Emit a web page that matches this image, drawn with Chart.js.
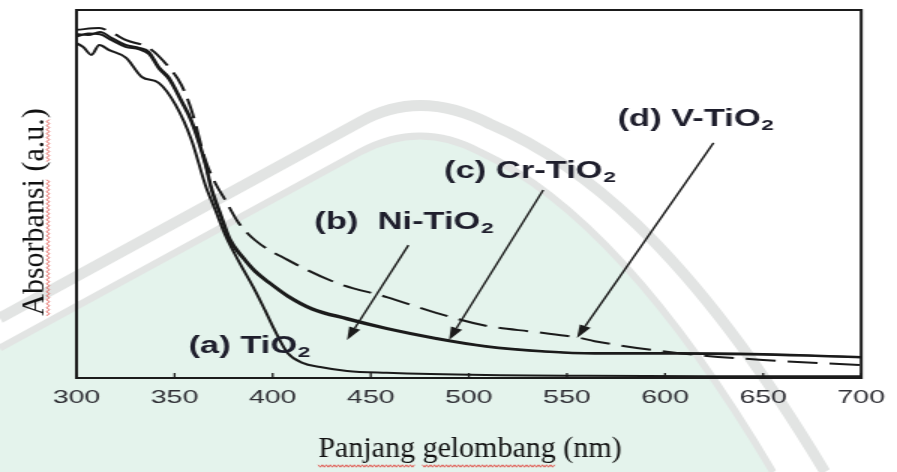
<!DOCTYPE html>
<html><head><meta charset="utf-8">
<script src="https://cdn.jsdelivr.net/npm/chart.js@4/dist/chart.umd.min.js"></script>
<style>
html,body{margin:0;padding:0;background:#fff;overflow:hidden}
</style></head><body>
<canvas id="c" width="598" height="472" style="width:897px;height:472px;display:block"></canvas>
<script>
// ---- data (wavelength in nm, absorbance in a.u.) ----
const xTickValues = [300, 350, 400, 450, 500, 550, 600, 650, 700];
const xTickLabels = ['300', '350', '400', '450', '500', '550', '600', '650', '700'];
const xTitle = 'Panjang gelombang (nm)';
const yTitle = 'Absorbansi (a.u.)';

const tio2X = [300, 303.5, 307.6, 311.6, 316.7, 325.3, 333.3, 341.9, 350.5, 358.6, 365.7, 370.7, 375.8, 382.3, 390.9, 396, 401, 407.6, 415.2, 424.2, 437.9, 458.1, 508.6, 560, 620, 700];
const tio2Y = [0.910, 0.899, 0.878, 0.905, 0.891, 0.870, 0.818, 0.802, 0.742, 0.647, 0.524, 0.457, 0.389, 0.321, 0.239, 0.185, 0.130, 0.068, 0.041, 0.030, 0.019, 0.014, 0.008, 0.006, 0.005, 0.005];

const dopedX = [300, 306, 312, 318, 325, 332, 337, 342, 347, 353.5, 358.6, 365.7, 368.7, 373.7, 378.3, 384.8, 390.9, 398, 407.6, 420, 437.9, 458.1, 483.3, 508.6, 538.9, 564.1, 606.1, 650, 700];
const niY = [0.928, 0.936, 0.934, 0.918, 0.900, 0.893, 0.880, 0.840, 0.812, 0.750, 0.695, 0.578, 0.512, 0.437, 0.372, 0.325, 0.288, 0.258, 0.221, 0.186, 0.159, 0.133, 0.106, 0.085, 0.071, 0.066, 0.066, 0.063, 0.056];
const crY = [0.935, 0.932, 0.940, 0.924, 0.905, 0.897, 0.886, 0.845, 0.818, 0.755, 0.701, 0.585, 0.520, 0.443, 0.378, 0.330, 0.293, 0.262, 0.225, 0.190, 0.163, 0.136, 0.109, 0.087, 0.073, 0.068, 0.068, 0.065, 0.057];

const vX = [300, 311.6, 318.2, 325.3, 336.9, 347, 353.5, 358.6, 365.7, 370.7, 375.8, 382.3, 390.9, 407.6, 432.8, 458.1, 483.3, 508.6, 533.8, 555.6, 564.1, 606.1, 650, 700];
const vY = [0.946, 0.951, 0.938, 0.918, 0.897, 0.845, 0.796, 0.728, 0.592, 0.530, 0.484, 0.424, 0.375, 0.321, 0.258, 0.220, 0.177, 0.142, 0.125, 0.110, 0.100, 0.068, 0.049, 0.035];

// annotation labels: text, subscript, anchor (nm, a.u.)
const labelNames = ['(a) TiO', '(b)  Ni-TiO', '(c) Cr-TiO', '(d) V-TiO'];
const labelSubs = ['2', '2', '2', '2'];
const labelAtX = [357.1, 421.2, 487.4, 575.8];
const labelAtY = [0.090, 0.427, 0.565, 0.707];
// arrows: from (x1,y1) to tip (x2,y2), data units
const arrowFromX = [469.2, 537.9, 624.7];
const arrowFromY = [0.361, 0.511, 0.639];
const arrowToX = [437.9, 489.9, 555.1];
const arrowToY = [0.103, 0.103, 0.109];

const S = 1.5; // the pasted figure is stretched horizontally
const pts = (xs, ys) => xs.map((x, i) => ({x: x, y: ys[i]}));
const INK = '#1b1b1b';

function squiggle(ctx, x1, x2, y) {
  ctx.beginPath();
  let k = 0;
  for (let x = x1; x <= x2; x += 2, k++) {
    const yy = y + (k % 2 ? 1.2 : -1.2);
    if (k === 0) ctx.moveTo(x, yy); else ctx.lineTo(x, yy);
  }
  ctx.stroke();
}

const watermark = {
  id: 'watermark',
  beforeDraw(chart) {
    const ctx = chart.ctx;
    ctx.save();
    ctx.scale(1 / S, 1);
    ctx.fillStyle = '#ffffff';
    ctx.fillRect(0, 0, 897, 472);
    // green logo field
    ctx.beginPath();
    ctx.moveTo(0, 472); ctx.lineTo(0, 345); ctx.lineTo(360, 150);
    ctx.quadraticCurveTo(420, 118, 480, 150);
    ctx.bezierCurveTo(545, 180, 645, 255, 775, 472);
    ctx.closePath();
    ctx.fillStyle = '#e4f3ec';
    ctx.fill();
    // grey rings
    ctx.strokeStyle = '#e2e4e3';
    ctx.lineWidth = 11;
    ctx.beginPath();
    ctx.moveTo(0, 318); ctx.lineTo(360, 122);
    ctx.quadraticCurveTo(420, 88, 490, 124);
    ctx.bezierCurveTo(575, 160, 685, 240, 825, 472);
    ctx.stroke();
    ctx.lineWidth = 7;
    ctx.beginPath();
    ctx.moveTo(0, 348); ctx.lineTo(360, 152);
    ctx.quadraticCurveTo(420, 120, 480, 152);
    ctx.bezierCurveTo(545, 182, 645, 257, 773, 472);
    ctx.stroke();
    ctx.restore();
  }
};

const frame = {
  id: 'frame',
  afterDatasetsDraw(chart) {
    const ctx = chart.ctx, a = chart.chartArea, xs = chart.scales.x, ys = chart.scales.y;
    ctx.save();
    ctx.strokeStyle = INK;
    ctx.lineWidth = 2;
    ctx.strokeRect(a.left, a.top, a.right - a.left, a.bottom - a.top);
    ctx.lineWidth = 1.3;
    xs.ticks.forEach(t => {
      const px = xs.getPixelForValue(t.value);
      ctx.beginPath(); ctx.moveTo(px, a.bottom); ctx.lineTo(px, a.bottom - 5); ctx.stroke();
    });
    // arrows
    ctx.fillStyle = INK;
    for (let i = 0; i < arrowFromX.length; i++) {
      const x1 = xs.getPixelForValue(arrowFromX[i]), y1 = ys.getPixelForValue(arrowFromY[i]);
      const x2 = xs.getPixelForValue(arrowToX[i]), y2 = ys.getPixelForValue(arrowToY[i]);
      const ang = Math.atan2(y2 - y1, x2 - x1);
      const L = 13, W = 4;
      const bx = x2 - L * Math.cos(ang), by = y2 - L * Math.sin(ang);
      ctx.lineWidth = 1.4;
      ctx.beginPath(); ctx.moveTo(x1, y1); ctx.lineTo(bx, by); ctx.stroke();
      ctx.beginPath();
      ctx.moveTo(x2, y2);
      ctx.lineTo(bx + W * Math.sin(ang), by - W * Math.cos(ang));
      ctx.lineTo(bx - W * Math.sin(ang), by + W * Math.cos(ang));
      ctx.closePath(); ctx.fill();
    }
    // labels
    ctx.fillStyle = '#1e1e2c';
    ctx.textBaseline = 'alphabetic';
    ctx.textAlign = 'left';
    for (let i = 0; i < labelNames.length; i++) {
      const x = xs.getPixelForValue(labelAtX[i]), y = ys.getPixelForValue(labelAtY[i]);
      ctx.font = 'bold 23px "Liberation Sans", Arial, sans-serif';
      ctx.fillText(labelNames[i], x, y + 8);
      const w = ctx.measureText(labelNames[i]).width;
      ctx.font = 'bold 15px "Liberation Sans", Arial, sans-serif';
      ctx.fillText(labelSubs[i], x + w + 0.5, y + 12);
    }
    ctx.restore();
  }
};

const titles = {
  id: 'titles',
  afterDraw(chart) {
    const ctx = chart.ctx;
    ctx.save();
    ctx.scale(1 / S, 1);
    ctx.fillStyle = '#111111';
    ctx.font = '30px "Liberation Serif", "Times New Roman", serif';
    ctx.textBaseline = 'alphabetic';
    ctx.textAlign = 'left';
    const w = ctx.measureText(xTitle).width;
    const x0 = 470 - w / 2, yb = 457;
    ctx.fillText(xTitle, x0, yb);
    ctx.strokeStyle = '#e0443c'; ctx.lineWidth = 1;
    const sp = ctx.measureText(' ').width;
    let cx = x0;
    xTitle.split(' ').forEach((wd, i) => {
      const ww = ctx.measureText(wd).width;
      if (i < 2) squiggle(ctx, cx, cx + ww, yb + 9);
      cx += ww + sp;
    });
    // y title
    ctx.translate(44, 0);
    ctx.rotate(-Math.PI / 2);
    const wy = ctx.measureText(yTitle).width;
    const y0 = -212 - wy / 2;
    ctx.fillStyle = '#111111';
    ctx.fillText(yTitle, y0, 0);
    const w1 = ctx.measureText('Absorbansi').width;
    squiggle(ctx, y0, y0 + w1, 4);
    const w2 = ctx.measureText('Absorbansi (').width;
    const w3 = ctx.measureText('a.u.').width;
    squiggle(ctx, y0 + w2, y0 + w2 + w3, 4);
    ctx.restore();
  }
};

const lineDs = (label, data, dash) => ({
  label: label, data: data, borderColor: INK, borderWidth: 2,
  borderDash: dash, pointRadius: 0, fill: false,
  cubicInterpolationMode: 'monotone'
});

new Chart(document.getElementById('c'), {
  type: 'line',
  data: {
    datasets: [
      lineDs('(a) TiO2', pts(tio2X, tio2Y), []),
      lineDs('(b) Ni-TiO2', pts(dopedX, niY), []),
      lineDs('(c) Cr-TiO2', pts(dopedX, crY), []),
      lineDs('(d) V-TiO2', pts(vX, vY), [20, 8])
    ]
  },
  options: {
    responsive: false,
    animation: false,
    devicePixelRatio: 1,
    layout: {padding: {left: 51, right: 19, top: 10, bottom: 0}},
    plugins: {legend: {display: false}, tooltip: {enabled: false}},
    scales: {
      x: {
        type: 'linear', min: 300, max: 700,
        afterBuildTicks(s) { s.ticks = xTickValues.map(v => ({value: v})); },
        ticks: {
          callback: (v) => xTickLabels[xTickValues.indexOf(v)],
          font: {family: '"Liberation Sans", Arial, sans-serif', size: 19},
          color: '#2f2f35', padding: 8, maxRotation: 0, autoSkip: false
        },
        grid: {display: false, drawTicks: false},
        border: {display: false},
        afterFit(s) { s.height = 94; }
      },
      y: {display: false, min: 0, max: 1}
    }
  },
  plugins: [watermark, frame, titles]
});
</script>
</body></html>
